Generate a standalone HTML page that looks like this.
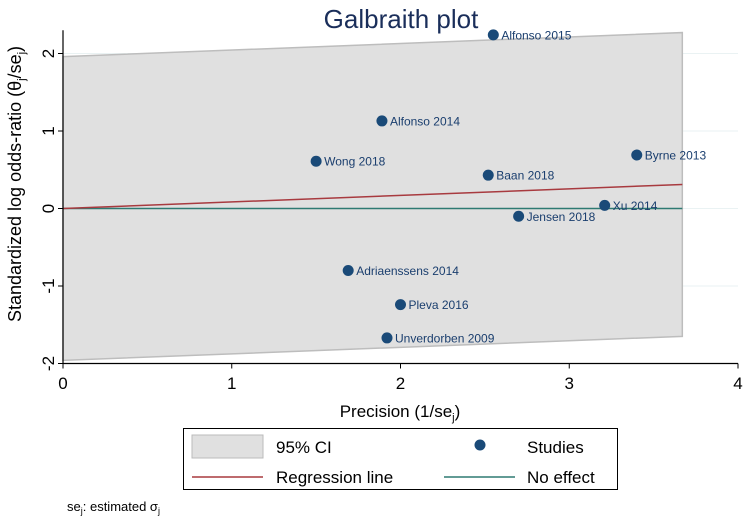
<!DOCTYPE html>
<html><head><meta charset="utf-8"><style>
body{margin:0;background:#fff;font-family:"Liberation Sans",sans-serif}
svg text{font-family:"Liberation Sans",sans-serif}
</style></head><body>
<svg id="chart" width="744" height="521" xmlns="http://www.w3.org/2000/svg">
<rect width="744" height="521" fill="#fff"/>
<text x="401" y="28" font-size="26" text-anchor="middle" fill="#1a2e5a">Galbraith plot</text>
<g id="grid"></g>
<g id="band"></g>
<g id="lines"></g>
<g id="pts"></g>
<g id="axes"></g>
<text x="400" y="417" font-size="17" text-anchor="middle" fill="#000">Precision (1/se<tspan font-size="11" dy="4">j</tspan><tspan dy="-4">)</tspan></text>
<text transform="translate(21,184) rotate(-90)" font-size="18" text-anchor="middle" fill="#000">Standardized log odds-ratio (θ<tspan font-size="11" dy="4">j</tspan><tspan dy="-4">/se</tspan><tspan font-size="11" dy="4">j</tspan><tspan dy="-4">)</tspan></text>
<g>
<rect x="183.5" y="428.5" width="434" height="61" fill="#fff" stroke="#000" stroke-width="1"/>
<rect x="192" y="435" width="71" height="23" fill="#e0e0e0" stroke="#bbb"/>
<text x="276" y="453" font-size="17">95% CI</text>
<circle cx="480" cy="445" r="5.5" fill="#1a4a78"/>
<text x="527" y="453" font-size="17">Studies</text>
<line x1="192" y1="477" x2="263" y2="477" stroke="#a83a3f" stroke-width="1.5"/>
<text x="276" y="483" font-size="17">Regression line</text>
<line x1="444" y1="477" x2="515" y2="477" stroke="#2e7a72" stroke-width="1.5"/>
<text x="527" y="483" font-size="17">No effect</text>
</g>
<text x="67" y="511" font-size="13">se<tspan font-size="9" dy="3">j</tspan><tspan dy="-3">: estimated σ</tspan><tspan font-size="9" dy="3">j</tspan></text>
</svg>
<script>
const studyNames=["Alfonso 2015","Alfonso 2014","Wong 2018","Byrne 2013","Baan 2018","Xu 2014","Jensen 2018","Adriaenssens 2014","Pleva 2016","Unverdorben 2009"];
const precision=[2.55,1.89,1.50,3.40,2.52,3.21,2.70,1.69,2.00,1.92];
const stdEffect=[2.24,1.13,0.61,0.69,0.43,0.04,-0.10,-0.80,-1.24,-1.67];
const xTicks=[0,1,2,3,4];
const yTicks=[-2,-1,0,1,2];
const xMaxBand=3.67;
const ciUpper=[1.96,2.27];
const ciLower=[-1.96,-1.65];
const regression=[0,0.31];
const NS="http://www.w3.org/2000/svg";
const X=v=>63+v*168.75, Y=v=>208.5-v*77.5;
function mk(t,a,p){const e=document.createElementNS(NS,t);for(const k in a)e.setAttribute(k,a[k]);document.getElementById(p).appendChild(e);return e;}
yTicks.forEach(t=>{const g=mk('line',{x1:63,x2:738,y1:Y(t),y2:Y(t),stroke:'#eaf2f3','stroke-width':1},'grid');

});
const band=mk('polygon',{points:`${X(0)},${Y(ciUpper[0])} ${X(xMaxBand)},${Y(ciUpper[1])} ${X(xMaxBand)},${Y(ciLower[1])} ${X(0)},${Y(ciLower[0])}`,fill:'#e0e0e0',stroke:'#bdbdbd','stroke-width':1.5},'band');


const ne=mk('line',{x1:X(0),y1:Y(0),x2:X(xMaxBand),y2:Y(0),stroke:'#2e7a72','stroke-width':1.5},'lines');


const rl=mk('line',{x1:X(0),y1:Y(regression[0]),x2:X(xMaxBand),y2:Y(regression[1]),stroke:'#a83a3f','stroke-width':1.5},'lines');


studyNames.forEach((n,i)=>{const c=mk('circle',{cx:X(precision[i]),cy:Y(stdEffect[i]),r:5.5,fill:'#1a4a78'},'pts');


const t=mk('text',{x:X(precision[i])+8,y:Y(stdEffect[i])+4.5,'font-size':12,fill:'#1a3e6e'},'pts');t.textContent=n;

});
const ya=mk('line',{x1:63,x2:63,y1:Y(2.3),y2:Y(-2),stroke:'#000','stroke-width':1.2},'axes');


const xa=mk('line',{x1:63,x2:738,y1:Y(-2),y2:Y(-2),stroke:'#000','stroke-width':1.2},'axes');


xTicks.forEach(t=>{mk('line',{x1:X(t),x2:X(t),y1:Y(-2),y2:Y(-2)+5,stroke:'#000'},'axes');
const l=mk('text',{x:X(t),y:389,'font-size':17,'text-anchor':'middle'},'axes');l.textContent=t;

});
yTicks.forEach(t=>{mk('line',{x1:58,x2:63,y1:Y(t),y2:Y(t),stroke:'#000'},'axes');
const l=mk('text',{transform:`translate(54,${Y(t)}) rotate(-90)`,'font-size':17,'text-anchor':'middle'},'axes');l.textContent=t;

});
</script>
</body></html>
